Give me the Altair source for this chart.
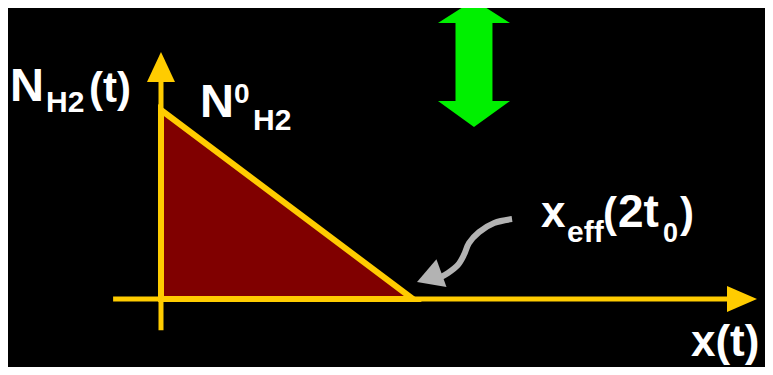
import altair as alt
import pandas as pd

# ---- diagram values (arbitrary units: x_eff = 1, N0_H2 = 1) ----
N0 = 1.0
X_EFF = 1.0
tri_x = [0.0, X_EFF]
tri_n = [N0, 0.0]

x_axis_x = [-0.19, 2.30]
x_arrow_tip = [2.365]
y_axis_n = [-0.165, 1.20]
y_arrow_tip = [1.307]

# green double arrow (centre)
green_x = [1.242]
green_n = [1.246]

# grey curved pointer towards x_eff
curve_x = [1.393, 1.322, 1.262, 1.222, 1.202, 1.178, 1.139, 1.107]
curve_n = [0.423, 0.402, 0.354, 0.296, 0.233, 0.180, 0.138, 0.114]
pointer_tip_x = [1.016]
pointer_tip_n = [0.090]

# labels
lab_text = ["N", "H2", "(t)", "N", "0", "H2", "x", "eff", "(", "2t", "0", ")", "x(t)"]
lab_x = [-0.599, -0.456, -0.286, 0.155, 0.290, 0.365, 1.508, 1.611,
         1.754, 1.813, 1.992, 2.060, 2.103]
lab_n = [1.048, 0.989, 1.042, 0.963, 1.037, 0.894, 0.381, 0.302,
         0.381, 0.381, 0.302, 0.381, -0.302]
lab_size = [47, 30, 42, 47, 28, 30, 44, 30, 42, 46, 27, 42, 44]

GOLD = "#FFCC00"
XS = alt.Scale(domain=[-0.6071, 2.3968], nice=False, zero=False)
YS = alt.Scale(domain=[-0.3598, 1.5397], nice=False, zero=False)


def X(f="x"):
    return alt.X(f"{f}:Q", scale=XS, axis=None)


def Y(f="n"):
    return alt.Y(f"{f}:Q", scale=YS, axis=None)


tri = alt.Chart(pd.DataFrame({"x": tri_x, "n": tri_n, "b": [0.0, 0.0]})).mark_area(
    fill="#800000", stroke=GOLD, strokeWidth=6, strokeJoin="miter"
).encode(x=X(), y=Y(), y2="b:Q")

xaxis = alt.Chart(pd.DataFrame({"x": [x_axis_x[0]], "x2": [x_axis_x[1]], "n": [0.0]})).mark_rule(
    color=GOLD, strokeWidth=5
).encode(x=X(), x2="x2:Q", y=Y())

yaxis = alt.Chart(pd.DataFrame({"x": [0.0], "n": [y_axis_n[0]], "n2": [y_axis_n[1]]})).mark_rule(
    color=GOLD, strokeWidth=5
).encode(x=X(), y=Y(), y2="n2:Q")

xhead = alt.Chart(pd.DataFrame({"x": x_arrow_tip, "n": [0.0]})).mark_point(
    shape="M0,0L-2,-0.867L-2,0.867Z", filled=True, fill=GOLD, opacity=1, strokeWidth=0, size=900
).encode(x=X(), y=Y())

yhead = alt.Chart(pd.DataFrame({"x": [0.0], "n": y_arrow_tip})).mark_point(
    shape="M0,0L-0.933,2L0.933,2Z", filled=True, fill=GOLD, opacity=1, strokeWidth=0, size=900
).encode(x=X(), y=Y())

green = alt.Chart(pd.DataFrame({"x": green_x, "n": green_n})).mark_point(
    shape="M0,-1L0.567,-0.638L0.291,-0.638L0.291,0.591L0.567,0.591L0,1L-0.567,0.591L-0.291,0.591L-0.291,-0.638L-0.567,-0.638Z",
    filled=True, fill="#00F000", opacity=1, strokeWidth=0, size=16129
).encode(x=X(), y=Y())

curve = alt.Chart(pd.DataFrame({"x": curve_x, "n": curve_n, "i": list(range(len(curve_x)))})).mark_line(
    color="#B3B3B3", strokeWidth=6, interpolate="catmull-rom"
).encode(x=X(), y=Y(), order="i:Q")

pointer = alt.Chart(pd.DataFrame({"x": pointer_tip_x, "n": pointer_tip_n})).mark_point(
    shape="M0,0L-2,-1.13L-2,1.13Z", filled=True, fill="#B3B3B3", opacity=1, strokeWidth=0, size=676, angle=160
).encode(x=X(), y=Y())

labels = alt.Chart(pd.DataFrame({"t": lab_text, "x": lab_x, "n": lab_n, "s": lab_size})).mark_text(
    align="left", baseline="alphabetic", font="Liberation Sans", fontWeight="bold", color="white"
).encode(x=X(), y=Y(), text="t:N", size=alt.Size("s:Q", scale=None, legend=None))

chart = alt.layer(tri, xaxis, yaxis, xhead, yhead, green, curve, pointer, labels).properties(
    width=757, height=359, padding=0, autosize=alt.AutoSizeParams(type="none"),
    background="black"
).configure_view(stroke=None)

chart.save("out.html", embed_options={"renderer": "svg", "actions": False})
